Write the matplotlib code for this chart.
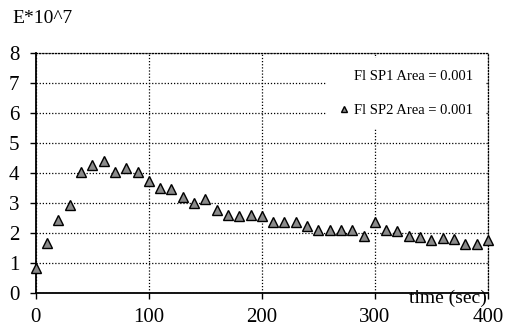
import numpy as np
import matplotlib.pyplot as plt
from matplotlib.lines import Line2D

# E*10^7 vs time, one reading every 10 s
temps = np.arange(0, 410, 10)
energie = [0.83, 1.67, 2.44, 2.94, 4.03, 4.26, 4.39, 4.03, 4.17, 4.03,
           3.74, 3.50, 3.48, 3.19, 3.00, 3.14, 2.78, 2.61, 2.56, 2.59,
           2.56, 2.37, 2.37, 2.37, 2.22, 2.11, 2.11, 2.11, 2.11, 1.89,
           2.37, 2.11, 2.06, 1.89, 1.86, 1.78, 1.83, 1.81, 1.63, 1.63,
           1.78]

xticks = [0, 100, 200, 300, 400]
yticks = list(range(0, 9))
label_sp1 = "Fl SP1 Area = 0.001"
label_sp2 = "Fl SP2 Area = 0.001"

plt.rcParams['font.family'] = ['Liberation Serif', 'DejaVu Serif']

fig = plt.figure(figsize=(5.05, 3.31), dpi=100)
ax = fig.add_axes([0.071, 0.115, 0.895, 0.725])

ax.plot(temps, energie, linestyle='none', marker='^', markersize=7,
        markerfacecolor='#8a8a8a', markeredgecolor='black', markeredgewidth=1.0,
        clip_on=False, zorder=4)

ax.set_xlim(0, 400)
ax.set_ylim(0, 8)
ax.set_xticks(xticks)
ax.set_yticks(yticks)
ax.tick_params(labelsize=15, length=4, width=1, direction='out')
ax.tick_params(axis='y', pad=8)
ax.tick_params(axis='x', pad=7)

ax.grid(True, color='black', linestyle=(0, (1, 1.5)), linewidth=0.9)
for s in ['top', 'right']:
    ax.spines[s].set_linestyle((0, (1, 1.5)))
    ax.spines[s].set_linewidth(0.9)
for s in ['left', 'bottom']:
    ax.spines[s].set_linewidth(1.3)

fig.text(0.024, 0.945, "E*10^7", fontsize=14, ha='left', va='center')
ax.text(399, 0.12, "time (sec)", fontsize=14, ha='right', va='top',
        zorder=5)

handles = [Line2D([], [], linestyle='none', marker=None),
           Line2D([], [], linestyle='none', marker='^', markersize=5,
                  markerfacecolor='#8a8a8a', markeredgecolor='black')]
leg = ax.legend(handles, [label_sp1, label_sp2], loc='upper right',
                bbox_to_anchor=(0.993, 0.979), fontsize=10.5, frameon=True,
                handlelength=0.8, handletextpad=0.3, labelspacing=1.45,
                borderaxespad=0, borderpad=0.8)
leg.get_frame().set_facecolor('white')
leg.get_frame().set_edgecolor('none')
leg.get_frame().set_alpha(1)

fig.savefig("out.png", dpi=100)
